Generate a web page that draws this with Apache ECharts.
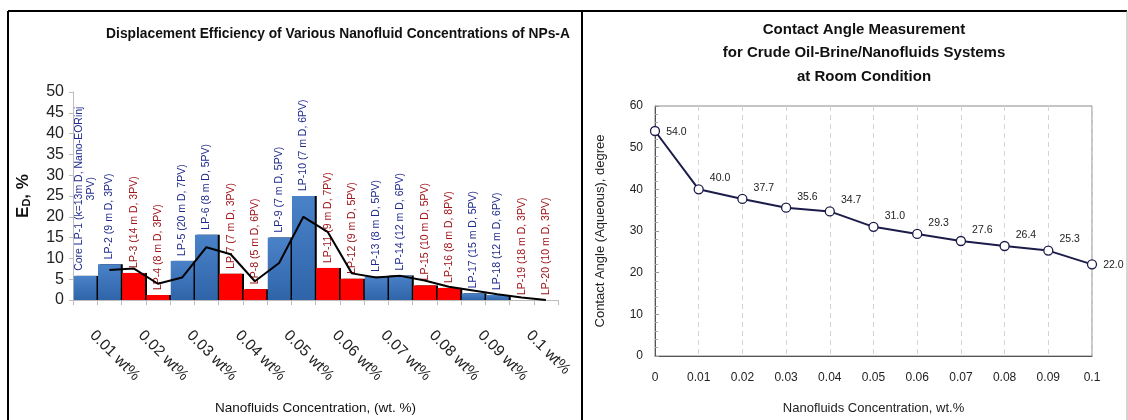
<!DOCTYPE html>
<html><head><meta charset="utf-8">
<script src="https://cdn.jsdelivr.net/npm/echarts@6/dist/echarts.min.js"></script>
<style>html,body{margin:0;padding:0;background:#fff}#c{width:1128px;height:420px}</style>
</head><body><div id="c"></div>
<script>
// ---- Left chart data ----
const coreLabels = [
  'Core LP-1 (k=13m D, Nano-EORinj\n3PV)', 'LP-2 (9 m D, 3PV)', 'LP-3 (14 m D, 3PV)', 'LP-4 (8 m D, 3PV)',
  'LP-5 (20 m D, 7PV)', 'LP-6 (8 m D, 5PV)', 'LP-7 (7 m D, 3PV)', 'LP-8 (5 m D, 6PV)',
  'LP-9 (7 m D, 5PV)', 'LP-10 (7 m D, 6PV)', 'LP-11 (9 m D, 7PV)', 'LP-12 (9 m D, 5PV)',
  'LP-13 (8 m D, 5PV)', 'LP-14 (12 m D, 6PV)', 'LP-15 (10 m D, 5PV)', 'LP-16 (8 m D, 8PV)',
  'LP-17 (15 m D, 5PV)', 'LP-18 (12 m D, 6PV)', 'LP-19 (18 m D, 3PV)', 'LP-20 (10 m D, 3PV)'
];
const coreGroup = ['blue','blue','red','red','blue','blue','red','red','blue','blue',
                   'red','red','blue','blue','red','red','blue','blue','red','red'];
const efficiency = [5.8, 8.6, 6.5, 1.2, 9.4, 15.7, 6.3, 2.6, 15.0, 25.0,
                    7.7, 5.1, 5.6, 5.9, 3.5, 2.9, 1.6, 1.2, 0, 0];
const trendLine = [null, 7.2, 7.6, 3.9, 5.4, 12.7, 11.0, 4.5, 8.9, 20.0,
                   16.4, 6.4, 5.4, 5.8, 4.7, 3.2, 2.3, 1.4, 0.6, 0.0];
const concLabels = ['0.01 wt%','0.02 wt%','0.03 wt%','0.04 wt%','0.05 wt%',
                    '0.06 wt%','0.07 wt%','0.08 wt%','0.09 wt%','0.1 wt%'];
const edTicks = {min: 0, max: 50, interval: 5};

// ---- Right chart data ----
const caConc = [0, 0.01, 0.02, 0.03, 0.04, 0.05, 0.06, 0.07, 0.08, 0.09, 0.1];
const caAngle = [54.0, 40.0, 37.7, 35.6, 34.7, 31.0, 29.3, 27.6, 26.4, 25.3, 22.0];

const SANS = "'Liberation Sans', Arial, sans-serif";

const blueFill = new echarts.graphic.LinearGradient(0,0,0,1,[{offset:0,color:'#4a82c8'},{offset:1,color:'#2f64a8'}]);
const redFill = '#ff0000';

const barData = efficiency.map((v, i) => {
  const blue = coreGroup[i] === 'blue';
  return {
    value: v,
    itemStyle: { color: blue ? blueFill : redFill },
    label: { color: blue ? '#1f2a8c' : '#a0141a' }
  };
});

const caData = caConc.map((x, i) => {
  const item = { value: [x, caAngle[i]] };
  const edge = (i === 0 || i === caConc.length - 1);
  item.label = { offset: edge ? [0, 1] : [0, -11] };
  return item;
});

const chart = echarts.init(document.getElementById('c'), null, {renderer: 'canvas'});
chart.setOption({
  animation: false,
  backgroundColor: '#fff',
  title: [
    { text: 'Displacement Efficiency of Various Nanofluid Concentrations of NPs-A',
      left: 333, top: 22, textAlign: 'center',
      textStyle: { fontFamily: SANS, fontSize: 13.8, fontWeight: 'bold', color: '#111' } },
    { text: 'Contact Angle Measurement\nfor Crude Oil-Brine/Nanofluids Systems\nat Room Condition',
      left: 859, top: 13, textAlign: 'center',
      textStyle: { fontFamily: SANS, fontSize: 15, fontWeight: 'bold', color: '#111', lineHeight: 23.5 } }
  ],
  grid: [
    { left: 73, right: 570, top: 92, bottom: 117, containLabel: false },
    { left: 655, right: 36, top: 106, bottom: 64, show: true, borderColor: '#8a8a8a', borderWidth: 1 }
  ],
  xAxis: [
    { type: 'category', gridIndex: 0, data: coreLabels, boundaryGap: true,
      axisLine: { lineStyle: { color: '#bdbdbd', width: 1 } },
      axisTick: { show: true, interval: 0, length: 5, lineStyle: { color: '#bdbdbd' } },
      axisLabel: { interval: 0, rotate: -45, margin: 26, padding: [0, 0, 0, 10], fontFamily: SANS, fontSize: 15.5, color: '#222',
        formatter: (v, i) => (i % 2 === 0 ? concLabels[i / 2] : '') },
      name: 'Nanofluids Concentration, (wt. %)', nameLocation: 'middle', nameGap: 101,
      nameTextStyle: { fontFamily: SANS, fontSize: 13.5, color: '#111', verticalAlign: 'top' } },
    { type: 'value', gridIndex: 1, min: 0, max: 0.1, interval: 0.01,
      axisLine: { lineStyle: { color: '#555' } },
      axisTick: { show: false },
      splitLine: { show: true, lineStyle: { type: [5, 4], color: '#d4d4d4' } },
      axisLabel: { margin: 16, fontFamily: SANS, fontSize: 12, color: '#222',
        formatter: v => (v === 0 ? '0' : String(+v.toFixed(2))) },
      name: 'Nanofluids Concentration, wt.%', nameLocation: 'middle', nameGap: 46,
      nameTextStyle: { fontFamily: SANS, fontSize: 13, color: '#222', verticalAlign: 'top' } }
  ],
  yAxis: [
    { type: 'value', gridIndex: 0, min: edTicks.min, max: edTicks.max, interval: edTicks.interval,
      axisLine: { show: true, lineStyle: { color: '#bdbdbd' } },
      axisTick: { show: true, length: 4, lineStyle: { color: '#bdbdbd' } },
      splitLine: { show: false },
      axisLabel: { margin: 9, fontFamily: SANS, fontSize: 16, color: '#222' },
      name: '{a|E}{s|D}{a|, %}', nameLocation: 'middle', nameGap: 41, nameRotate: 90,
      nameTextStyle: { rich: {
        a: { fontFamily: SANS, fontSize: 17, fontWeight: 'bold', color: '#111' },
        s: { fontFamily: SANS, fontSize: 11, fontWeight: 'bold', color: '#111', verticalAlign: 'bottom', padding: [6,0,0,0] }
      } } },
    { type: 'value', gridIndex: 1, min: 0, max: 60, interval: 10,
      axisLine: { show: true, lineStyle: { color: '#555' } },
      axisTick: { show: true, inside: true, length: 4, lineStyle: { color: '#999' } },
      minorTick: { show: true, splitNumber: 5, length: 3, lineStyle: { color: '#aaa' } },
      splitLine: { show: false },
      axisLabel: { margin: 12, fontFamily: SANS, fontSize: 12, color: '#222' },
      name: 'Contact Angle (Aqueous), degree', nameLocation: 'middle', nameGap: 48, nameRotate: 90,
      nameTextStyle: { fontFamily: SANS, fontSize: 13, color: '#222' } }
  ],
  series: [
    { type: 'bar', xAxisIndex: 0, yAxisIndex: 0, data: barData, barCategoryGap: '6%',
      itemStyle: { shadowColor: '#000', shadowOffsetX: 2, shadowOffsetY: 0, shadowBlur: 0 },
      label: { show: true, position: 'top', distance: 5, rotate: 90, align: 'left', verticalAlign: 'middle',
        fontFamily: SANS, fontSize: 10.5,
        formatter: p => p.name.split('\n').map(s => '{c|' + s + '}').join('\n'),
        rich: { c: { align: 'center', fontFamily: SANS, fontSize: 10.5, lineHeight: 12 } } },
      z: 2 },
    { type: 'line', xAxisIndex: 0, yAxisIndex: 0, data: trendLine, symbol: 'none',
      lineStyle: { color: '#000', width: 2 }, z: 5 },
    { type: 'line', xAxisIndex: 1, yAxisIndex: 1, data: caData,
      symbol: 'circle', symbolSize: 9,
      itemStyle: { color: '#fff', borderColor: '#1c1c4a', borderWidth: 1.3 },
      lineStyle: { color: '#1c1c4a', width: 2 },
      label: { show: true, position: 'right', distance: 6,
        fontFamily: SANS, fontSize: 10.5, color: '#222',
        formatter: p => p.value[1].toFixed(1) },
      z: 5 }
  ],
  graphic: [
    { type: 'line', shape: { x1: 8, y1: 11, x2: 1127, y2: 11 }, style: { stroke: '#000', lineWidth: 2 } },
    { type: 'line', shape: { x1: 8, y1: 11, x2: 8, y2: 420 }, style: { stroke: '#000', lineWidth: 2 } },
    { type: 'line', shape: { x1: 582, y1: 11, x2: 582, y2: 420 }, style: { stroke: '#000', lineWidth: 2 } },
    { type: 'line', shape: { x1: 1127, y1: 11, x2: 1127, y2: 420 }, style: { stroke: '#aaa', lineWidth: 1 } }
  ]
});
</script></body></html>
